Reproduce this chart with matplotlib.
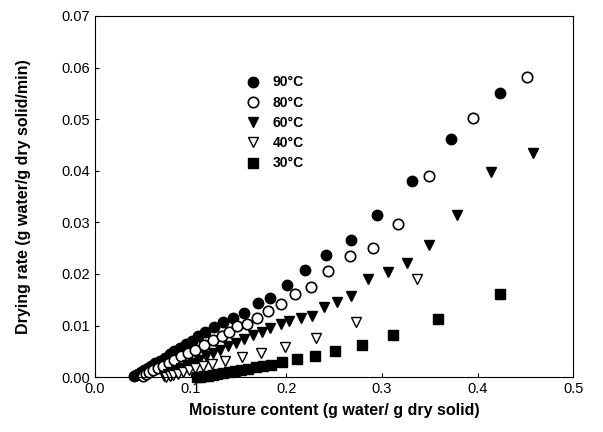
import matplotlib
matplotlib.use("Agg")
import matplotlib.pyplot as plt

plt.rcParams['font.family'] = ['Liberation Sans', 'DejaVu Sans']

# 90 C - filled circles
x90 = [0.041, 0.043, 0.045, 0.048, 0.051, 0.055, 0.059, 0.063, 0.068, 0.073, 0.078,
       0.083, 0.089, 0.095, 0.101, 0.108, 0.115, 0.124, 0.134, 0.144, 0.156, 0.170,
       0.183, 0.201, 0.220, 0.242, 0.268, 0.295, 0.331, 0.372, 0.423]
y90 = [0.0002, 0.0004, 0.0006, 0.0009, 0.0013, 0.0018, 0.0022, 0.0027, 0.0032, 0.0038, 0.0044,
       0.0050, 0.0057, 0.0064, 0.0071, 0.0079, 0.0088, 0.0097, 0.0107, 0.0114, 0.0125, 0.0143,
       0.0154, 0.0178, 0.0207, 0.0236, 0.0265, 0.0315, 0.0381, 0.0462, 0.0551]

# 80 C - open circles
x80 = [0.050, 0.053, 0.057, 0.061, 0.066, 0.071, 0.077, 0.083, 0.090, 0.097, 0.105,
       0.114, 0.123, 0.133, 0.140, 0.149, 0.159, 0.169, 0.181, 0.194, 0.209, 0.226,
       0.244, 0.267, 0.291, 0.317, 0.349, 0.395, 0.452]
y80 = [0.0003, 0.0006, 0.0009, 0.0013, 0.0017, 0.0022, 0.0027, 0.0033, 0.0040, 0.0046, 0.0053,
       0.0062, 0.0072, 0.0080, 0.0088, 0.0099, 0.0103, 0.0114, 0.0128, 0.0141, 0.0161, 0.0174,
       0.0205, 0.0234, 0.0250, 0.0296, 0.0389, 0.0503, 0.0582]

# 60 C - filled down triangles
x60 = [0.072, 0.076, 0.080, 0.085, 0.090, 0.096, 0.102, 0.109, 0.116, 0.123, 0.131,
       0.139, 0.147, 0.156, 0.165, 0.175, 0.183, 0.194, 0.203, 0.215, 0.227, 0.239,
       0.253, 0.268, 0.286, 0.306, 0.326, 0.349, 0.379, 0.414, 0.458]
y60 = [0.0003, 0.0006, 0.0010, 0.0014, 0.0018, 0.0023, 0.0028, 0.0034, 0.0040, 0.0046, 0.0053,
       0.0060, 0.0067, 0.0074, 0.0081, 0.0088, 0.0095, 0.0103, 0.0109, 0.0114, 0.0118, 0.0135,
       0.0145, 0.0157, 0.0190, 0.0203, 0.0222, 0.0257, 0.0315, 0.0397, 0.0435]

# 40 C - open down triangles
x40 = [0.074, 0.078, 0.082, 0.087, 0.092, 0.098, 0.105, 0.113, 0.122, 0.136, 0.154,
       0.174, 0.199, 0.231, 0.273, 0.337]
y40 = [0.0001, 0.0003, 0.0005, 0.0007, 0.0010, 0.0013, 0.0017, 0.0021, 0.0025, 0.0031, 0.0039,
       0.0046, 0.0058, 0.0075, 0.0106, 0.0190]

# 30 C - filled squares
x30 = [0.107, 0.110, 0.114, 0.118, 0.123, 0.128, 0.134, 0.140, 0.146, 0.153, 0.160,
       0.168, 0.176, 0.184, 0.196, 0.211, 0.230, 0.251, 0.279, 0.312, 0.359, 0.423]
y30 = [0.0000, 0.0001, 0.0002, 0.0003, 0.0004, 0.0006, 0.0008, 0.0010, 0.0012, 0.0014, 0.0016,
       0.0019, 0.0021, 0.0024, 0.0030, 0.0035, 0.0040, 0.0050, 0.0062, 0.0081, 0.0112, 0.0161]

fig = plt.figure(figsize=(6.03, 4.32), dpi=100)
ax = fig.add_axes([0.1575, 0.127, 0.793, 0.836])

ms = 7.5
ax.plot(x90, y90, 'o', color='black', ms=ms, label='90°C', clip_on=False)
ax.plot(x80, y80, 'o', mfc='white', mec='black', mew=1.2, ms=ms, label='80°C', clip_on=False)
ax.plot(x60, y60, 'v', color='black', ms=ms, label='60°C', clip_on=False)
ax.plot(x40, y40, 'v', mfc='white', mec='black', mew=1.0, ms=ms, label='40°C', clip_on=False)
ax.plot(x30, y30, 's', color='black', ms=6.5, label='30°C', clip_on=False)

ax.set_xlim(0, 0.5)
ax.set_ylim(0, 0.07)
ax.set_xticks([0.0, 0.1, 0.2, 0.3, 0.4, 0.5])
ax.set_yticks([0.0, 0.01, 0.02, 0.03, 0.04, 0.05, 0.06, 0.07])
ax.set_xticklabels(['0.0', '0.1', '0.2', '0.3', '0.4', '0.5'])
ax.set_yticklabels(['0.00', '0.01', '0.02', '0.03', '0.04', '0.05', '0.06', '0.07'])
ax.tick_params(direction='in', length=3, labelsize=10.5)

ax.set_xlabel('Moisture content (g water/ g dry solid)', fontsize=11.5, fontweight='bold', labelpad=5)
ax.set_ylabel('Drying rate (g water/g dry solid/min)', fontsize=11.5, fontweight='bold', labelpad=22)

leg = ax.legend(loc='upper left', bbox_to_anchor=(0.287, 0.87), frameon=False,
                handletextpad=0.8, labelspacing=0.45, fontsize=10, handlelength=1.2)
for t in leg.get_texts():
    t.set_fontweight('bold')

plt.savefig('out.png', dpi=100)
